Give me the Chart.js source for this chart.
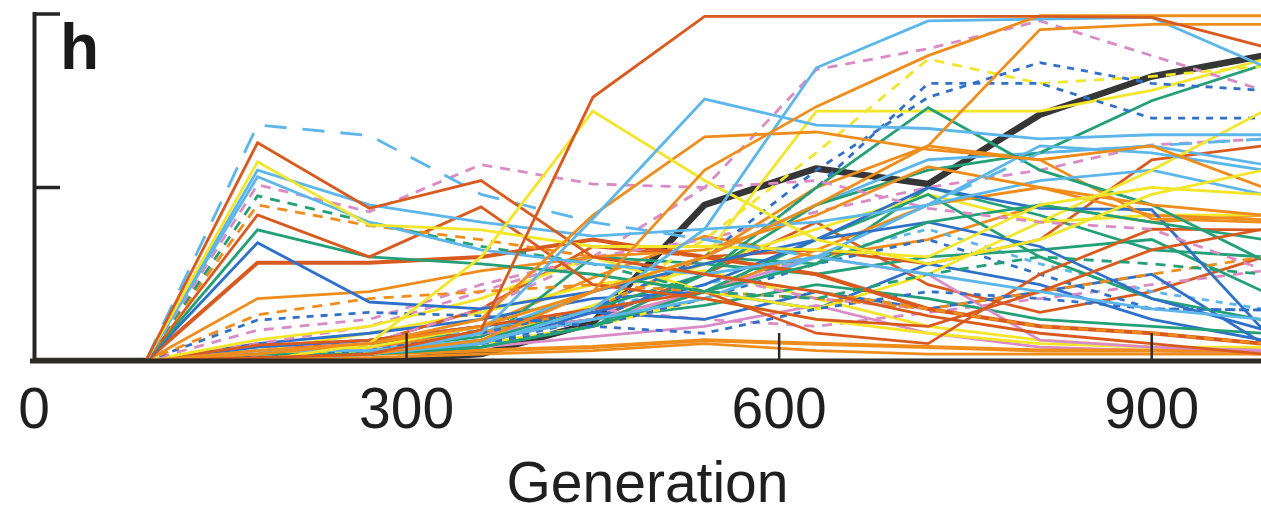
<!DOCTYPE html>
<html>
<head>
<meta charset="utf-8">
<script src="https://cdn.jsdelivr.net/npm/chart.js@4.4.1/dist/chart.umd.min.js"></script>
<style>
html,body{margin:0;padding:0;background:#fff;overflow:hidden;}
#wrap{width:1261px;height:511px;position:relative;}
</style>
</head>
<body>
<div id="wrap"><canvas id="c" width="1261" height="511"></canvas></div>
<script>
// ---------- data ----------
const generations = [0, 90, 180, 270, 360, 450, 540, 630, 720, 810, 900, 990];
const xTickValues = [0, 300, 600, 900];
const xTickLabels = ['0', '300', '600', '900'];
const yTickValues = [0.5, 1];
const panelLabel = 'h';
const xTitle = 'Generation';

const meanLine = [0, 0, 0, 0, 0.02, 0.11, 0.45, 0.555, 0.51, 0.71, 0.82, 0.88];

const s01 = [0, 0, 0.01, 0.02, 0.09, 0.76, 0.993, 0.993, 0.993, 0.993, 0.99, 0.906];
const s02 = [0, 0, 0, 0.02, 0.06, 0.2, 0.55, 0.733, 0.88, 0.995, 0.995, 0.995];
const s03 = [0, 0, 0.03, 0.05, 0.1, 0.2, 0.3, 0.45, 0.62, 0.955, 0.97, 0.97];
const s04 = [0, 0, 0, 0.02, 0.05, 0.15, 0.38, 0.845, 0.98, 0.985, 0.99, 0.85];
const s05 = [0, 0, 0, 0.02, 0.08, 0.41, 0.755, 0.68, 0.67, 0.64, 0.652, 0.652];
const s06 = [0, 0, 0, 0.05, 0.3, 0.72, 0.52, 0.35, 0.28, 0.35, 0.48, 0.55];
const s07 = [0, 0, 0.02, 0.05, 0.12, 0.42, 0.646, 0.66, 0.61, 0.58, 0.62, 0.5];
const s08 = [0, 0, 0.629, 0.44, 0.52, 0.3, 0.25, 0.2, 0.13, 0.08, 0.05, 0.02];
const s09 = [0, 0, 0.68, 0.65, 0.48, 0.4, 0.35, 0.3, 0.45, 0.6, 0.62, 0.64];
const s10 = [0, 0, 0.574, 0.392, 0.378, 0.33, 0.33, 0.32, 0.3, 0.45, 0.5, 0.48];
const s11 = [0, 0, 0.55, 0.45, 0.4, 0.36, 0.38, 0.4, 0.45, 0.62, 0.6, 0.55];
const s12 = [0, 0, 0.531, 0.4, 0.32, 0.28, 0.25, 0.3, 0.25, 0.2, 0.15, 0.12];
const s13 = [0, 0, 0.508, 0.43, 0.566, 0.51, 0.5, 0.52, 0.44, 0.4, 0.38, 0.263];
const s14 = [0, 0, 0.476, 0.4, 0.33, 0.28, 0.2, 0.18, 0.25, 0.3, 0.28, 0.25];
const s15 = [0, 0, 0.45, 0.39, 0.35, 0.3, 0.25, 0.2, 0.15, 0.1, 0.08, 0.05];
const s16 = [0, 0, 0.421, 0.3, 0.444, 0.22, 0.18, 0.12, 0.1, 0.2, 0.32, 0.38];
const s17 = [0, 0, 0.378, 0.3, 0.28, 0.25, 0.2, 0.28, 0.4, 0.45, 0.4, 0.35];
const s18 = [0, 0, 0.341, 0.17, 0.15, 0.2, 0.28, 0.35, 0.4, 0.33, 0.18, 0.09];
const s19 = [0, 0, 0.283, 0.283, 0.3, 0.35, 0.3, 0.25, 0.15, 0.1, 0.08, 0.05];
const s20 = [0, 0, 0.18, 0.2, 0.26, 0.3, 0.32, 0.42, 0.56, 0.5, 0.45, 0.42];
const s21 = [0, 0, 0.133, 0.18, 0.2, 0.22, 0.2, 0.18, 0.15, 0.2, 0.25, 0.3];
const s22 = [0, 0, 0.118, 0.14, 0.13, 0.1, 0.08, 0.15, 0.2, 0.18, 0.15, 0.147];
const s23 = [0, 0, 0.089, 0.12, 0.22, 0.3, 0.25, 0.18, 0.15, 0.1, 0.08, 0.05];
const s24 = [0, 0, 0.061, 0.1, 0.18, 0.3, 0.2, 0.15, 0.25, 0.4, 0.55, 0.72];
const s25 = [0, 0, 0.046, 0.06, 0.1, 0.15, 0.2, 0.08, 0.05, 0.25, 0.38, 0.378];
const s26 = [0, 0, 0.03, 0.03, 0.06, 0.12, 0.18, 0.3, 0.45, 0.52, 0.55, 0.48];
const s27 = [0, 0, 0.02, 0.02, 0.04, 0.1, 0.25, 0.5, 0.73, 0.55, 0.45, 0.29];
const s28 = [0, 0, 0.01, 0.03, 0.08, 0.15, 0.3, 0.55, 0.76, 0.86, 0.8, 0.78];
const s29 = [0, 0, 0.01, 0.02, 0.05, 0.12, 0.25, 0.5, 0.8, 0.8, 0.7, 0.7];
const s30 = [0, 0, 0.02, 0.03, 0.05, 0.15, 0.35, 0.6, 0.87, 0.8, 0.82, 0.85];
const s31 = [0, 0, 0.01, 0.05, 0.15, 0.3, 0.5, 0.84, 0.9, 0.98, 0.88, 0.78];
const s32 = [0, 0, 0, 0.02, 0.06, 0.15, 0.25, 0.45, 0.55, 0.6, 0.75, 0.854];
const s33 = [0, 0, 0.01, 0.04, 0.1, 0.2, 0.3, 0.72, 0.72, 0.72, 0.78, 0.869];
const s34 = [0, 0, 0.02, 0.04, 0.08, 0.15, 0.3, 0.5, 0.62, 0.58, 0.41, 0.4];
const s35 = [0, 0, 0.01, 0.02, 0.05, 0.14, 0.22, 0.35, 0.5, 0.44, 0.436, 0.089];
const s36 = [0, 0, 0.01, 0.02, 0.04, 0.1, 0.2, 0.35, 0.48, 0.3, 0.18, 0.118];
const s37 = [0, 0, 0.01, 0.02, 0.05, 0.1, 0.18, 0.28, 0.35, 0.25, 0.15, 0.147];
const s38 = [0, 0, 0.02, 0.04, 0.08, 0.12, 0.2, 0.3, 0.25, 0.06, 0.04, 0.03];
const s39 = [0, 0, 0.01, 0.01, 0.02, 0.03, 0.05, 0.03, 0.02, 0.02, 0.02, 0.02];
const s40 = [0, 0, 0.02, 0.03, 0.05, 0.1, 0.18, 0.12, 0.08, 0.05, 0.04, 0.04];
const s41 = [0, 0, 0.05, 0.1, 0.2, 0.3, 0.35, 0.43, 0.5, 0.55, 0.623, 0.64];
const s42 = [0, 0, 0.01, 0.03, 0.08, 0.2, 0.3, 0.45, 0.58, 0.6, 0.62, 0.566];
const s43 = [0, 0, 0.01, 0.02, 0.06, 0.12, 0.2, 0.32, 0.45, 0.5, 0.42, 0.407];
const s44 = [0, 0, 0.01, 0.03, 0.06, 0.16, 0.28, 0.38, 0.48, 0.4, 0.42, 0.421];
const s45 = [0, 0, 0.02, 0.05, 0.15, 0.33, 0.3, 0.32, 0.28, 0.35, 0.58, 0.62];
const s46 = [0, 0, 0.01, 0.02, 0.05, 0.3, 0.28, 0.25, 0.3, 0.32, 0.35, 0.2];
const s47 = [0, 0, 0.04, 0.06, 0.1, 0.14, 0.12, 0.2, 0.15, 0.2, 0.25, 0.05];
const s48 = [0, 0, 0.01, 0.02, 0.03, 0.04, 0.06, 0.05, 0.04, 0.03, 0.03, 0.03];
const s49 = [0, 0, 0.02, 0.05, 0.08, 0.12, 0.16, 0.22, 0.18, 0.12, 0.1, 0.08];
const s50 = [0, 0, 0.03, 0.06, 0.1, 0.15, 0.12, 0.1, 0.14, 0.18, 0.22, 0.26];
const s51 = [0, 0, 0.05, 0.08, 0.12, 0.18, 0.2, 0.15, 0.28, 0.22, 0.12, 0.06];
const s52 = [0, 0, 0.03, 0.08, 0.14, 0.22, 0.26, 0.18, 0.1, 0.06, 0.04, 0.03];
const s53 = [0, 0, 0.02, 0.05, 0.09, 0.15, 0.22, 0.3, 0.38, 0.28, 0.2, 0.15];
const s54 = [0, 0, 0.03, 0.06, 0.08, 0.12, 0.25, 0.4, 0.22, 0.14, 0.2, 0.3];
const s55 = [0, 0, 0.01, 0.03, 0.07, 0.2, 0.3, 0.28, 0.5, 0.42, 0.32, 0.3];
const s56 = [0, 0, 0.02, 0.04, 0.1, 0.24, 0.36, 0.3, 0.35, 0.45, 0.4, 0.42];
const s57 = [0, 0, 0.01, 0.02, 0.04, 0.07, 0.1, 0.16, 0.08, 0.04, 0.03, 0.02];

const allSeries = [s01,s02,s03,s04,s05,s06,s07,s08,s09,s10,s11,s12,s13,s14,s15,s16,s17,s18,s19,s20,
  s21,s22,s23,s24,s25,s26,s27,s28,s29,s30,s31,s32,s33,s34,s35,s36,s37,s38,s39,s40,s41,s42,s43,s44,s45,s46,s47,
  s48,s49,s50,s51,s52,s53,s54,s55,s56,s57];

// ---------- styles (separate from data) ----------
const palette = {R:'#d95a1e', O:'#ef8d1c', Y:'#f2e52a', L:'#5cb6ea', B:'#2f70c8', G:'#23a077', P:'#d98bc6'};
const dashes = {'-':[], 'd':[10,8], 'l':[22,16], 's':[7,7]};
const seriesStyle = ['R-','O-','O-','L-','L-','Y-','O-','R-','Ll','Y-','L-','L-','Pd','Gd','Od','R-','G-','B-','R-','O-',
  'Od','Bs','Pd','Y-','R-','L-','G-','Bs','Bs','Yd','Pd','G-','Y-','O-','B-','G-','Bs','P-','O-','Y-','Pd','L-','O-','Y-','R-','G-','B-',
  'O-','G-','Pd','B-','Y-','Ls','R-','G-','O-','P-'];

const datasets = allSeries.map((vals, i) => {
  const st = seriesStyle[i];
  return {
    data: generations.map((g, j) => ({x: g, y: vals[j]})),
    borderColor: palette[st[0]],
    borderDash: dashes[st[1]],
    borderWidth: (i === 18 || i === 47) ? 4 : 2.8,
    pointRadius: 0,
    tension: 0,
    fill: false
  };
});
datasets.push({
  data: generations.map((g, j) => ({x: g, y: meanLine[j]})),
  borderColor: '#363636',
  borderWidth: 6.5,
  pointRadius: 0,
  tension: 0,
  borderCapStyle: 'round',
  borderJoinStyle: 'round',
  fill: false
});

const axisPlugin = {
  id: 'axisPlugin',
  afterDatasetsDraw(chart) {
    const {ctx, scales: {x, y}} = chart;
    const y0 = y.getPixelForValue(0);
    const x0 = x.getPixelForValue(0);
    ctx.save();
    ctx.strokeStyle = '#262626';
    ctx.lineCap = 'butt';
    // y axis
    ctx.lineWidth = 4;
    ctx.beginPath();
    ctx.moveTo(x0 + 0.5, y.getPixelForValue(1) - 2);
    ctx.lineTo(x0 + 0.5, y0);
    ctx.stroke();
    yTickValues.forEach(v => {
      const py = y.getPixelForValue(v);
      ctx.lineWidth = 3.5;
      ctx.beginPath();
      ctx.moveTo(x0, py);
      ctx.lineTo(x0 + 26, py);
      ctx.stroke();
    });
    // x axis
    ctx.strokeStyle = '#2e2a26';
    ctx.lineWidth = 5;
    ctx.beginPath();
    ctx.moveTo(x0 - 4, y0);
    ctx.lineTo(chart.width, y0);
    ctx.stroke();
    ctx.lineWidth = 2.5;
    xTickValues.forEach(v => {
      if (v === 0) return;
      const px = x.getPixelForValue(v);
      ctx.beginPath();
      ctx.moveTo(px, y0);
      ctx.lineTo(px, y0 - 28);
      ctx.stroke();
    });
    // panel label
    ctx.fillStyle = '#1a1a1a';
    ctx.font = 'bold 64px "Liberation Sans", Arial, sans-serif';
    ctx.textBaseline = 'alphabetic';
    ctx.textAlign = 'left';
    ctx.fillText(panelLabel, 60, 69);
    ctx.restore();
  }
};

new Chart(document.getElementById('c'), {
  type: 'line',
  data: {datasets},
  options: {
    responsive: false,
    animation: false,
    events: [],
    layout: {padding: {left: 34, top: 14, right: 0, bottom: 0}},
    plugins: {legend: {display: false}, tooltip: {enabled: false}},
    scales: {
      x: {
        type: 'linear',
        min: 0,
        max: 988,
        grid: {display: false, drawTicks: false},
        border: {display: false},
        afterBuildTicks: s => { s.ticks = xTickValues.map(v => ({value: v})); },
        afterFit: s => { s.height = 150; },
        ticks: {
          autoSkip: false,
          maxRotation: 0,
          padding: 17,
          color: '#1f1f1f',
          font: {family: '"Liberation Sans", Arial, sans-serif', size: 57, lineHeight: 1.2},
          callback: (v) => xTickLabels[xTickValues.indexOf(v)]
        },
        title: {
          display: true,
          text: xTitle,
          color: '#1f1f1f',
          padding: {top: 0, bottom: 0},
          font: {family: '"Liberation Sans", Arial, sans-serif', size: 57, lineHeight: 0.86}
        }
      },
      y: {
        type: 'linear',
        min: 0,
        max: 1,
        display: false
      }
    }
  },
  plugins: [axisPlugin]
});
</script>
</body>
</html>
